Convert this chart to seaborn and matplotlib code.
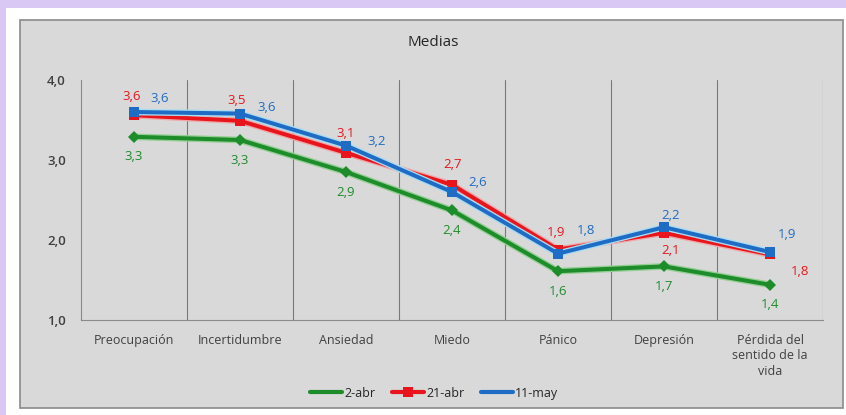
import matplotlib
matplotlib.use("Agg")
import matplotlib.pyplot as plt
from matplotlib.patches import Rectangle
import seaborn as sns
import pandas as pd

categories = ["Preocupación", "Incertidumbre", "Ansiedad", "Miedo", "Pánico",
              "Depresión", "Pérdida del\nsentido de la\nvida"]
series_names = ["2-abr", "21-abr", "11-may"]
abr2 = [3.29, 3.25, 2.85, 2.37, 1.61, 1.67, 1.44]
abr21 = [3.56, 3.49, 3.09, 2.69, 1.88, 2.09, 1.82]
may11 = [3.60, 3.58, 3.18, 2.60, 1.83, 2.16, 1.85]
labels_abr2 = ["3,3", "3,3", "2,9", "2,4", "1,6", "1,7", "1,4"]
labels_abr21 = ["3,6", "3,5", "3,1", "2,7", "1,9", "2,1", "1,8"]
labels_may11 = ["3,6", "3,6", "3,2", "2,6", "1,8", "2,2", "1,9"]
yticks = [1.0, 2.0, 3.0, 4.0]
ytick_labels = ["1,0", "2,0", "3,0", "4,0"]
title = "Medias"

sns.set_style("white")
plt.rcParams["font.family"] = ["Open Sans", "DejaVu Sans"]

W, H = 846, 415
fig = plt.figure(figsize=(W / 100, H / 100), dpi=100)
fig.patch.set_facecolor("#dac8f4")
fig.patches.append(Rectangle((6 / W, 0), 1, (H - 8) / H, transform=fig.transFigure,
                             facecolor="white", edgecolor="none", zorder=-2))
fig.patches.append(Rectangle((20 / W, (H - 408) / H), (843 - 20) / W, (408 - 20) / H,
                             transform=fig.transFigure, facecolor="#d9d9d9",
                             edgecolor="#8a8a8a", linewidth=1.2, zorder=-1))

ax = fig.add_axes([81 / W, (H - 320) / H, (823 - 81) / W, 240 / H])
ax.set_zorder(5)
ax.set_facecolor("none")

df = pd.DataFrame({
    "cat": categories * 3,
    "val": abr2 + abr21 + may11,
    "serie": [s for s in series_names for _ in categories],
})
colors = {"2-abr": "#1e8c2a", "21-abr": "#e8161c", "11-may": "#1f6cc4"}
glows = {"2-abr": "#93cf93", "21-abr": "#f0a8a8", "11-may": "#aadcf2"}
markers = {"2-abr": "D", "21-abr": "s", "11-may": "s"}

sns.lineplot(data=df, x="cat", y="val", hue="serie", style="serie",
             hue_order=series_names, style_order=series_names,
             palette=colors, markers=markers, dashes=False, sort=False,
             linewidth=2.9, markersize=6.5, markeredgewidth=0, ax=ax, legend=True)

for k, (line, name) in enumerate(zip(ax.get_lines()[:3], series_names)):
    line.set_zorder(3 + k)
    ax.plot(line.get_xdata(), line.get_ydata(), color=glows[name], linewidth=4.8,
            solid_capstyle="round", zorder=2.9 + k)
    if name == "2-abr":
        line.set_markersize(6)

ax.set_xlim(-0.5, 6.5)
ax.set_ylim(1.0, 4.0)
ax.set_yticks(yticks)
ax.set_yticklabels(ytick_labels, fontsize=9.5, color="#404040", fontweight="semibold")
ax.set_xticks(range(len(categories)))
ax.set_xticklabels(categories, fontsize=9, color="#404040", linespacing=1.25, va="top")
ax.tick_params(axis="x", length=0, pad=10)
ax.tick_params(axis="y", length=4, width=0.8, color="#808080", pad=7, direction="out")
ax.set_xlabel("")
ax.set_ylabel("")
for sp in ["top", "right"]:
    ax.spines[sp].set_visible(False)
ax.spines["left"].set_color("#8a8a8a")
ax.spines["bottom"].set_color("#8a8a8a")
ax.spines["left"].set_linewidth(0.8)
ax.spines["bottom"].set_linewidth(0.8)
for xv in [0.5, 1.5, 2.5, 3.5, 4.5, 5.5, 6.5]:
    ax.axvline(xv, color="#7a7a7a", linewidth=0.8, zorder=0)

# data labels (pixel offsets)
off_green = [(0, -20)] * 7
off_red = [(-2, 19), (-3, 20), (0, 19), (1, 20), (-2, 17), (7, -18), (30, -17)]
off_blue = [(26, 14), (27, 6), (31, 4), (26, 10), (28, 23), (7, 12), (17, 18)]
for vals, labs, offs, name in [(abr2, labels_abr2, off_green, "2-abr"),
                               (abr21, labels_abr21, off_red, "21-abr"),
                               (may11, labels_may11, off_blue, "11-may")]:
    for i, (v, t, o) in enumerate(zip(vals, labs, offs)):
        ax.annotate(t, (i, v), xytext=o, textcoords="offset pixels",
                    ha="center", va="center", fontsize=9.5, color=colors[name])

fig.text(433 / W, 1 - 42 / H, title, ha="center", va="center", fontsize=11, color="#262626")

handles, lbls = ax.get_legend_handles_labels()
ax.get_legend().remove()
leg = fig.legend(handles, lbls, loc="center", bbox_to_anchor=(434 / W, 1 - 393 / H),
                 ncol=3, frameon=False, fontsize=9, handlelength=2.6,
                 columnspacing=1.3, handletextpad=0.15)
for h, name in zip(leg.legend_handles, series_names):
    h.set_linewidth(3)
    if name != "21-abr":
        h.set_marker("")

fig.savefig("out.png", dpi=100, facecolor=fig.get_facecolor())
